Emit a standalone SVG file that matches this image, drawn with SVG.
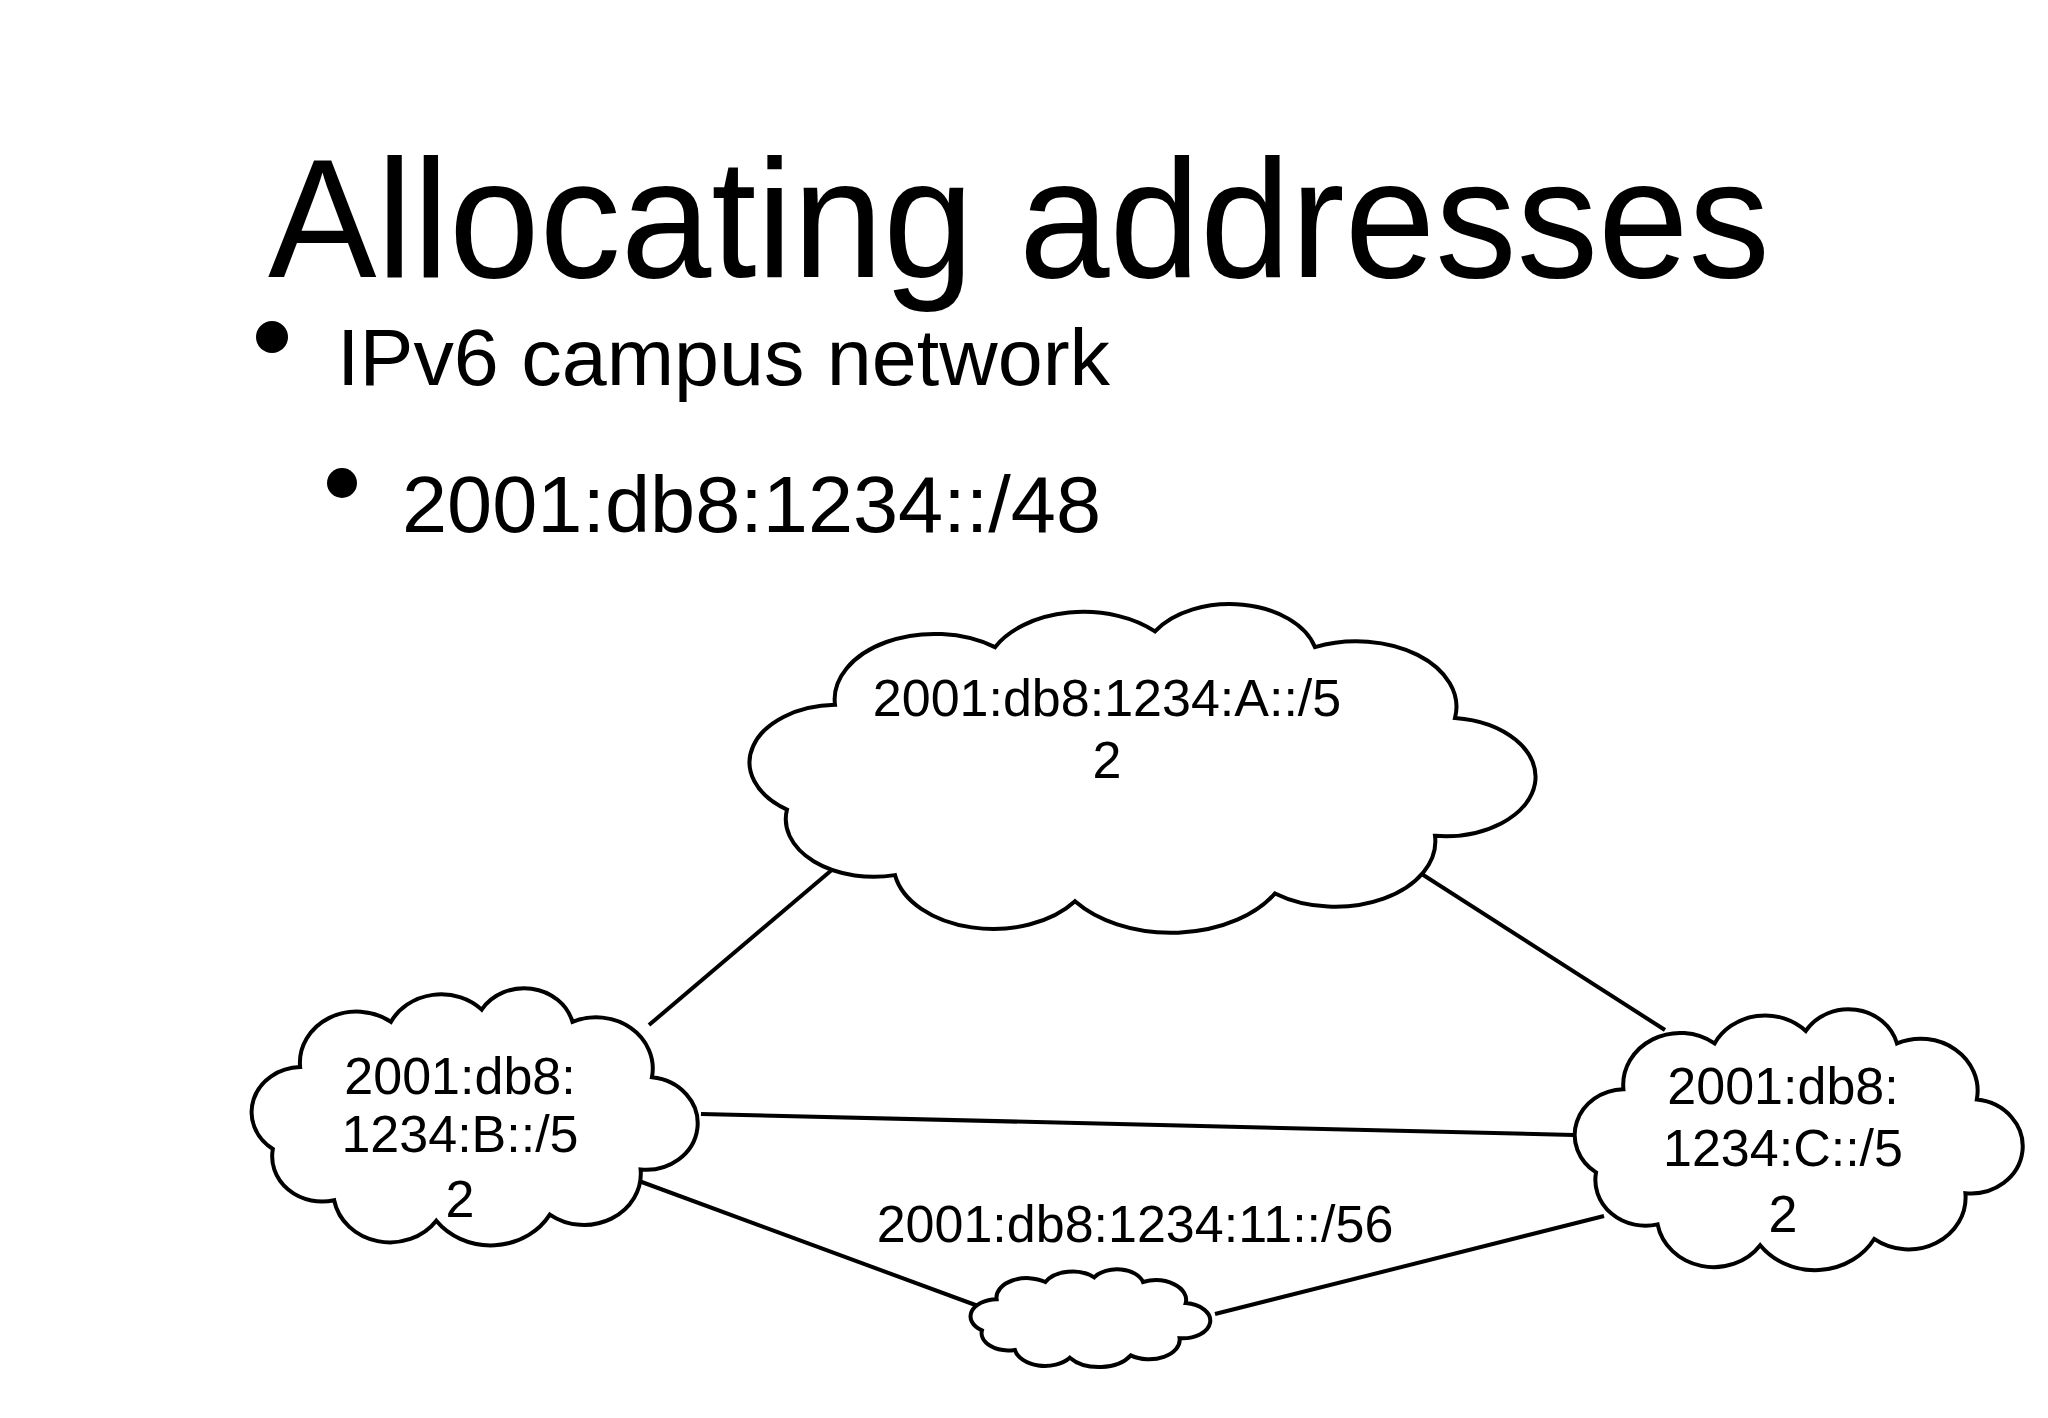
<svg xmlns="http://www.w3.org/2000/svg" width="2048" height="1418" viewBox="0 0 2048 1418">
<defs>
<style>
.t{font-family:"Liberation Sans",Arial,sans-serif;fill:#000}
.c{fill:#fff;stroke:#000}
.l{stroke:#000;stroke-width:4;fill:none}
.lbl{font-family:"Liberation Sans",Arial,sans-serif;font-size:52px;text-anchor:middle}
</style>
<path id="cloud" vector-effect="non-scaling-stroke" stroke-width="4" d="M30 40 A25 25 0 0 1 70 18 A25 25 0 0 1 110 12 A22 22 0 0 1 150 18 A25 25 0 0 1 185 45 A22 22 0 0 1 180 90 A25 25 0 0 1 140 112 A30 30 0 0 1 90 115 A25 25 0 0 1 45 105 A22 22 0 0 1 18 80 A22 22 0 0 1 30 40 Z"/>
</defs>
<rect width="2048" height="1418" fill="#fff"/>
<text class="t" x="268" y="277" font-size="168" textLength="1502" lengthAdjust="spacingAndGlyphs">Allocating addresses</text>
<circle cx="272" cy="337" r="16"/>
<text class="t" x="337" y="385" font-size="80" textLength="773" lengthAdjust="spacingAndGlyphs">IPv6 campus network</text>
<circle cx="342" cy="483" r="15"/>
<text class="t" x="402" y="532" font-size="80" textLength="699" lengthAdjust="spacingAndGlyphs">2001:db8:1234::/48</text>
<g id="connectors">
<line class="l" x1="840" y1="863" x2="649" y2="1025"/>
<line class="l" x1="1336" y1="819" x2="1665" y2="1030"/>
<line class="l" x1="701" y1="1114" x2="1574" y2="1135"/>
<line class="l" x1="639" y1="1181" x2="989" y2="1310"/>
<line class="l" x1="1215" y1="1314" x2="1604" y2="1216"/>
</g>
<g id="cloudA">
<use href="#cloud" class="c" transform="translate(715 600) scale(4.0 2.62)"/>
<text class="lbl" x="1107" y="716">2001:db8:1234:A::/5</text>
<text class="lbl" x="1107" y="778">2</text>
</g>
<g id="cloudB">
<use href="#cloud" class="c" transform="translate(232 985) scale(2.27 2.05)"/>
<text class="lbl" x="460" y="1094">2001:db8:</text>
<text class="lbl" x="460" y="1152">1234:B::/5</text>
<text class="lbl" x="460" y="1217">2</text>
</g>
<g id="cloudC">
<use href="#cloud" class="c" transform="translate(1555 1006) scale(2.28 2.08)"/>
<text class="lbl" x="1783" y="1104">2001:db8:</text>
<text class="lbl" x="1783" y="1166">1234:C::/5</text>
<text class="lbl" x="1783" y="1232">2</text>
</g>
<g id="cloudSmall">
<use href="#cloud" class="c" transform="translate(960 1268) scale(1.22 0.78)"/>
</g>
<text class="lbl" x="1135" y="1242">2001:db8:1234:11::/56</text>
</svg>
